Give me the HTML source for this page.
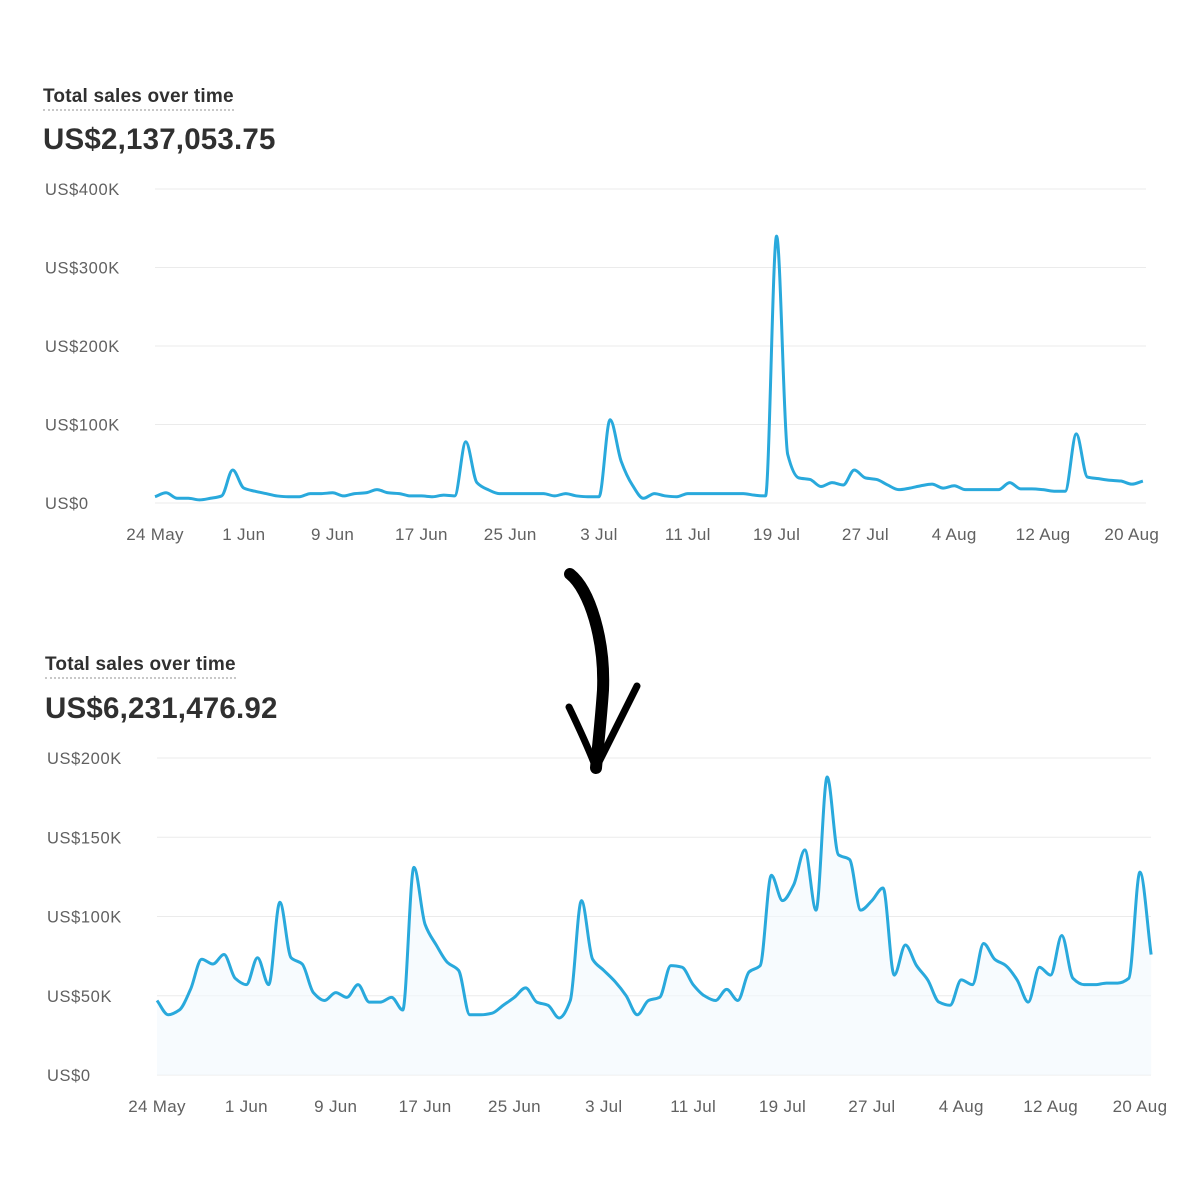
<!DOCTYPE html>
<html><head><meta charset="utf-8">
<style>
html,body{margin:0;padding:0;background:#fff;}
body{width:1200px;height:1200px;position:relative;overflow:hidden;font-family:"Liberation Sans",sans-serif;color:#303030;}
.title{position:absolute;font-size:19px;font-weight:bold;color:#303030;border-bottom:2px dotted #c8c8c8;padding-bottom:1px;letter-spacing:0.2px;}
.value{position:absolute;font-size:29.5px;font-weight:bold;color:#303030;letter-spacing:0.2px;}
svg{position:absolute;left:0;top:0;}
</style></head><body>
<div class="title" style="left:43px;top:86px;">Total sales over time</div>
<div class="value" style="left:43px;top:123px;">US$2,137,053.75</div>
<div class="title" style="left:45px;top:654px;">Total sales over time</div>
<div class="value" style="left:45px;top:692px;">US$6,231,476.92</div>
<svg id="svg" width="1200" height="1200">
<path d="M570,574 C590,590 605,640 603,690 C601,720 598,745 596,768" fill="none" stroke="#000" stroke-width="12" stroke-linecap="round"/>
<path d="M569,707 C580,730 590,752 596,768 C610,740 625,710 637,686" fill="none" stroke="#000" stroke-width="7" stroke-linecap="round" stroke-linejoin="round"/>
</svg>
<script>
const xLabels=["24 May","1 Jun","9 Jun","17 Jun","25 Jun","3 Jul","11 Jul","19 Jul","27 Jul","4 Aug","12 Aug","20 Aug"];
const topTicks=[0,100,200,300,400];
const topTickLabels=["US$0","US$100K","US$200K","US$300K","US$400K"];
const botTicks=[0,50,100,150,200];
const botTickLabels=["US$0","US$50K","US$100K","US$150K","US$200K"];
const topValues=[8,13,6,6,4,6,9,42,19,15,12,9,8,8,12,12,13,9,12,13,17,13,12,9,9,8,10,9,78,26,17,12,12,12,12,12,9,12,9,8,8,106,53,23,6,12,9,8,12,12,12,12,12,12,10,9,340,62,32,30,21,26,23,42,32,30,23,17,19,22,24,19,22,17,17,17,17,26,18,18,17,15,15,88,33,31,29,28,24,28];
const botValues=[47,38,41,54,73,70,76,61,57,74,57,109,74,70,52,47,52,49,57,46,46,49,41,131,95,82,71,66,38,38,39,44,49,55,46,44,36,47,110,73,66,59,50,38,47,49,69,68,57,50,47,54,47,65,69,126,110,120,142,104,188,139,136,104,110,118,63,82,69,60,46,44,60,57,83,73,69,60,46,68,63,88,61,57,57,58,58,61,128,76];
const NS="http://www.w3.org/2000/svg";
const svg=document.getElementById('svg');
function mk(tag,attrs){const e=document.createElementNS(NS,tag);for(const k in attrs)e.setAttribute(k,attrs[k]);svg.insertBefore(e,svg.firstChild);return e;}
function monotone(pts){
  const n=pts.length,dx=[],s=[],m=[];
  for(let i=0;i<n-1;i++){dx[i]=pts[i+1][0]-pts[i][0];s[i]=(pts[i+1][1]-pts[i][1])/dx[i];}
  m[0]=s[0];m[n-1]=s[n-2];
  for(let i=1;i<n-1;i++){m[i]=(s[i-1]*s[i]<=0)?0:(3*(dx[i-1]+dx[i]))/((2*dx[i]+dx[i-1])/s[i-1]+(dx[i]+2*dx[i-1])/s[i]);}
  let d="M"+pts[0][0]+","+pts[0][1];
  for(let i=0;i<n-1;i++){const h=dx[i]/3;d+=" C"+(pts[i][0]+h)+","+(pts[i][1]+m[i]*h)+" "+(pts[i+1][0]-h)+","+(pts[i+1][1]-m[i+1]*h)+" "+pts[i+1][0]+","+pts[i+1][1];}
  return d;
}
function chart(cfg){
  const xs=d=>cfg.x0+cfg.dayW*d;
  const ys=v=>cfg.y0-(v/cfg.max)*(cfg.y0-cfg.yTop);
  const pts=cfg.values.map((v,i)=>[xs(i),ys(v)]);
  const d=monotone(pts);
  const line=mk('path',{d:d,fill:'none',stroke:'#29a9dc','stroke-width':3,'stroke-linejoin':'round'});
  
  
  if(cfg.fill){
    const area=mk('path',{d:d+" L"+pts[pts.length-1][0]+","+cfg.y0+" L"+pts[0][0]+","+cfg.y0+" Z",fill:'#f2f9fd','fill-opacity':0.6});
    
    
  }
  cfg.ticks.forEach((t,i)=>{
    const g=mk('line',{x1:cfg.x0,x2:cfg.gridEnd,y1:ys(t),y2:ys(t),stroke:'#ebebeb','stroke-width':1});
    
    
    const tx=mk('text',{x:cfg.labelX,y:ys(t)+6,'font-size':16.5,'letter-spacing':0.6,fill:'#616161','font-family':'Liberation Sans, sans-serif'});
    tx.textContent=cfg.tickLabels[i];
    
    
  });
  cfg.xl.forEach((l,i)=>{
    const tx=mk('text',{x:xs(i*8),y:cfg.xLabelY,'font-size':17,'letter-spacing':0.3,fill:'#616161','text-anchor':'middle','font-family':'Liberation Sans, sans-serif'});
    tx.textContent=l;
    
    
  });
}
chart({p:'top',values:topValues,ticks:topTicks,tickLabels:topTickLabels,xl:xLabels,x0:155,dayW:11.1,y0:503,yTop:189,max:400,gridEnd:1146,labelX:45,xLabelY:540,fill:false});
chart({p:'bottom',values:botValues,ticks:botTicks,tickLabels:botTickLabels,xl:xLabels,x0:157,dayW:11.17,y0:1075,yTop:758,max:200,gridEnd:1151,labelX:47,xLabelY:1112,fill:true});
</script>
</body></html>
